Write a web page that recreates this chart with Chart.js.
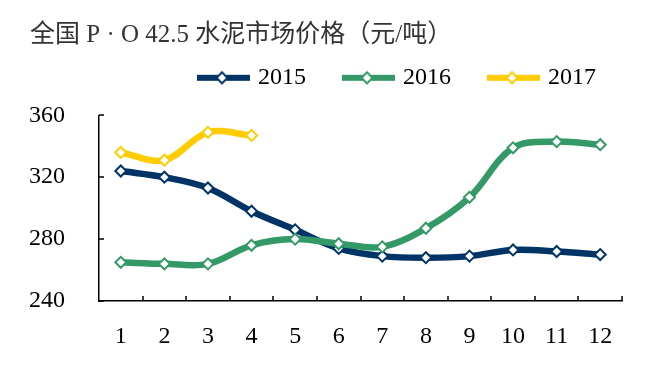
<!DOCTYPE html>
<html>
<head>
<meta charset="utf-8">
<script src="https://cdn.jsdelivr.net/npm/chart.js@4/dist/chart.umd.min.js"></script>
<style>
	html, body { margin: 0; padding: 0; background: #fff; }
	#wrap { width: 646px; height: 384px; }
</style>
</head>
<body>
<div id="wrap"><canvas id="cementChart"></canvas></div>
<script>
//#region data
const months = ['1', '2', '3', '4', '5', '6', '7', '8', '9', '10', '11', '12'];
const price2015 = [324, 320, 313, 298, 286, 274, 269, 268, 269, 273, 272, 270];
const price2016 = [265, 264, 264, 276, 280, 277, 275, 287, 307, 339, 343, 341];
const price2017 = [336, 331, 349, 347];
const yMin = 240;
const yMax = 360;
const yStep = 40;
//#endregion

const navy = '#003366';
const green = '#339966';
const yellow = '#FFCC00';
const serif = "'Liberation Serif', 'Times New Roman', 'Noto Sans CJK SC', serif";

//line + diamond swatch for the legend (drawn centred on the legend box)
function legendSwatch(color) {
	const c = document.createElement('canvas');
	c.width = 67;
	c.height = 16;
	const ctx = c.getContext('2d');
	ctx.strokeStyle = color;
	ctx.lineWidth = 6;
	ctx.beginPath();
	ctx.moveTo(14, 8);
	ctx.lineTo(67, 8);
	ctx.stroke();
	ctx.fillStyle = '#fff';
	ctx.lineWidth = 2;
	ctx.beginPath();
	ctx.moveTo(39, 2.5);
	ctx.lineTo(44.5, 8);
	ctx.lineTo(39, 13.5);
	ctx.lineTo(33.5, 8);
	ctx.closePath();
	ctx.fill();
	ctx.stroke();
	return c;
}

function series(label, data, color, order) {
	return {
		label: label,
		data: data,
		borderColor: color,
		backgroundColor: '#fff',
		borderWidth: 6.5,
		tension: 0.35,
		pointStyle: 'rectRot',
		pointRadius: 5.5,
		pointBorderWidth: 2,
		pointBorderColor: color,
		pointBackgroundColor: '#fff',
		order: order,
		clip: false,
		swatch: legendSwatch(color)
	};
}

//tick marks on the inside of the axes
const insideTicks = {
	id: 'insideTicks',
	afterDatasetsDraw(chart) {
		const { ctx, chartArea } = chart;
		const x = chart.scales.x;
		const y = chart.scales.y;
		ctx.save();
		ctx.strokeStyle = '#000';
		ctx.lineWidth = 1.5;
		ctx.beginPath();
		y.ticks.forEach((t) => {
			const py = Math.round(y.getPixelForValue(t.value));
			ctx.moveTo(chartArea.left, py);
			ctx.lineTo(chartArea.left + 5, py);
		});
		for (let i = 1; i <= months.length; i++) {
			const px = i < months.length
				? (x.getPixelForValue(i - 1) + x.getPixelForValue(i)) / 2
				: chartArea.right;
			ctx.moveTo(Math.round(px), chartArea.bottom);
			ctx.lineTo(Math.round(px), chartArea.bottom - 5);
		}
		ctx.stroke();
		ctx.restore();
	}
};

const chart = new Chart(document.getElementById('cementChart'), {
	type: 'line',
	data: {
		labels: months,
		datasets: [
			series('2015', price2015, navy, 2),
			series('2016', price2016, green, 1),
			series('2017', price2017, yellow, 0)
		]
	},
	options: {
		responsive: true,
		maintainAspectRatio: false,
		animation: false,
		layout: { padding: { left: 30, right: 24, top: 0, bottom: 0 } },
		plugins: {
			title: {
				display: true,
				text: '全国 P · O 42.5 水泥市场价格（元/吨）',
				align: 'start',
				color: '#333',
				font: { family: serif, size: 25, weight: 'normal' },
				padding: { top: 20, bottom: -10.2 }
			},
			legend: {
				display: true,
				position: 'top',
				align: 'end',
				labels: {
					color: '#000',
					font: { family: serif, size: 24 },
					usePointStyle: true,
					pointStyleWidth: 59,
					padding: 26,
					sort: (a, b) => a.datasetIndex - b.datasetIndex,
					generateLabels: (chart) => chart.data.datasets.map((ds, i) => ({
						text: ds.label,
						pointStyle: ds.swatch,
						fillStyle: ds.borderColor,
						strokeStyle: ds.borderColor,
						lineWidth: 0,
						fontColor: '#000',
						hidden: !chart.isDatasetVisible(i),
						datasetIndex: i
					}))
				}
			},
			tooltip: { enabled: false }
		},
		scales: {
			x: {
				offset: true,
				grid: { display: false },
				border: { display: true, color: '#000', width: 1.5 },
				ticks: {
					color: '#000',
					font: { family: serif, size: 24 },
					padding: 13,
					maxRotation: 0,
					autoSkip: false
				},
				afterFit: (scale) => { scale.height = 83; }
			},
			//empty band between legend and plot
			xTop: {
				type: 'category',
				position: 'top',
				grid: { display: false },
				border: { display: false },
				ticks: { display: false },
				afterFit: (scale) => { scale.height = 15.5; }
			},
			y: {
				min: yMin,
				max: yMax,
				grid: { display: false },
				border: { display: true, color: '#000', width: 1.5 },
				ticks: {
					stepSize: yStep,
					color: '#000',
					font: { family: serif, size: 24 },
					padding: 26
				},
				afterFit: (scale) => { scale.width = 69; }
			}
		}
	},
	plugins: [insideTicks]
});
</script>
</body>
</html>
